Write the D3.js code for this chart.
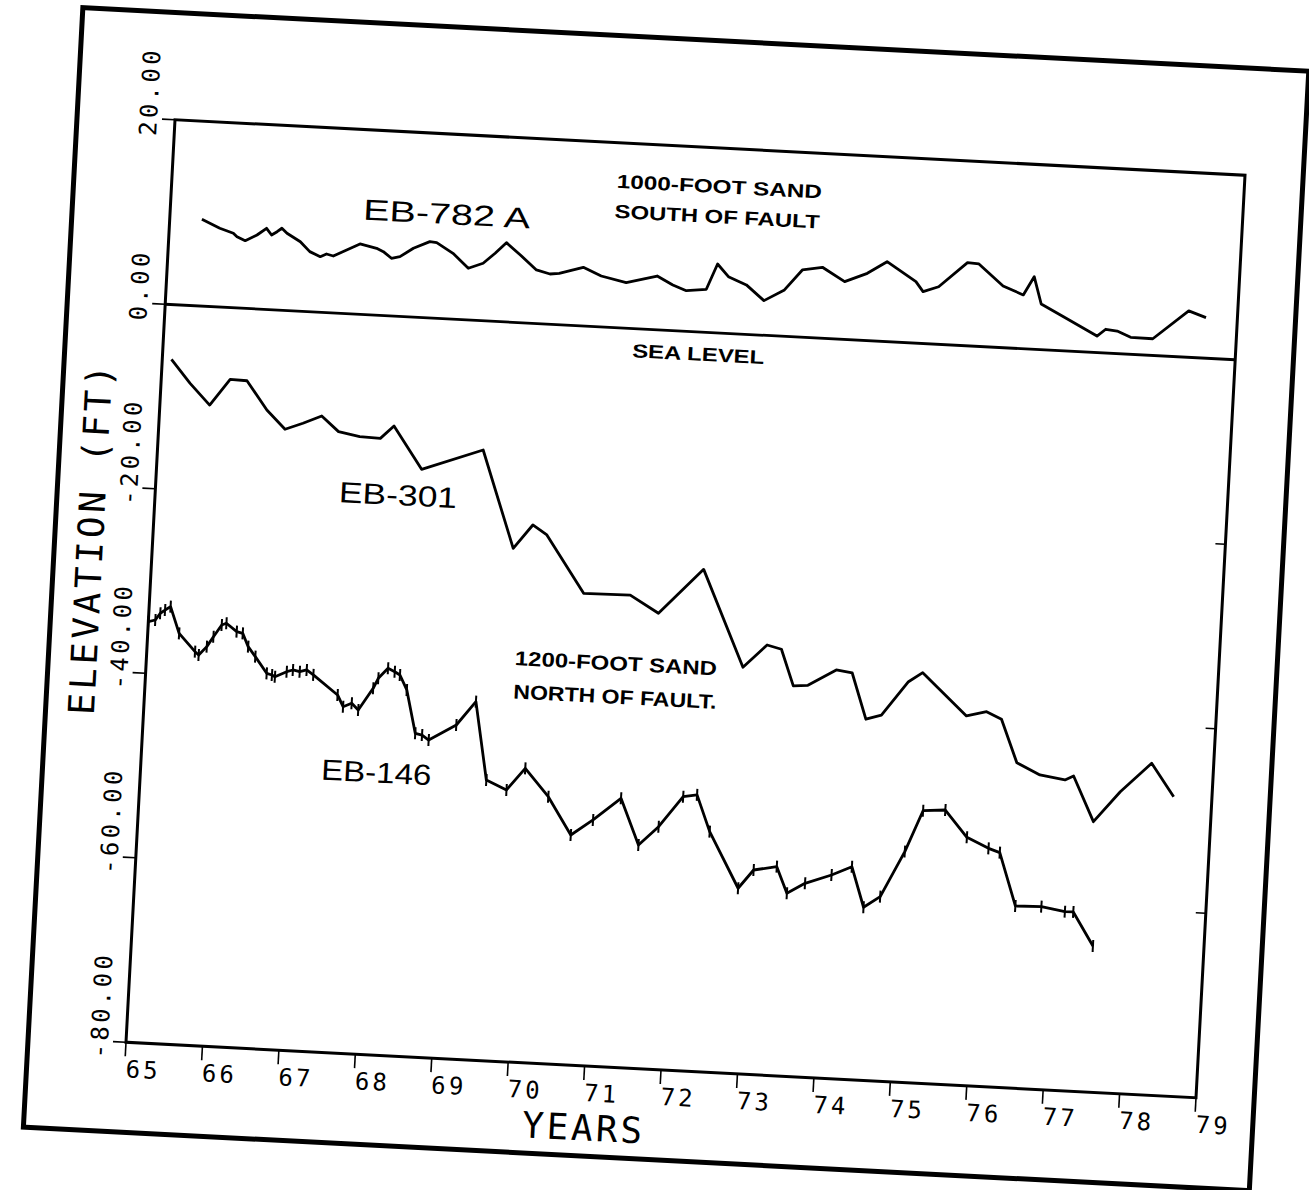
<!DOCTYPE html>
<html><head><meta charset="utf-8">
<script src="https://cdn.jsdelivr.net/npm/d3@7"></script>
<style>html,body{margin:0;padding:0;background:#fff;} svg{display:block}</style>
</head><body>
<svg id="chart" width="1309" height="1190"></svg>
<script>
// ---- data ----
const yearTicks = [65,66,67,68,69,70,71,72,73,74,75,76,77,78,79];
const yTickValues = [20,0,-20,-40,-60,-80];
const yTickLabels = ["20.00","0.00","-20.00","-40.00","-60.00","-80.00"];
const rightTickValues = [-20,-40,-60];

const eb782Years = [65.42,65.66,65.84,65.89,66.0,66.15,66.27,66.34,66.41,66.47,66.54,66.72,66.85,66.99,67.07,67.16,67.33,67.5,67.72,67.81,67.92,68.03,68.2,68.41,68.5,68.72,68.93,69.12,69.27,69.41,69.6,69.82,70.0,70.12,70.43,70.67,71.0,71.4,71.61,71.79,72.05,72.18,72.33,72.57,72.81,73.07,73.29,73.55,73.85,74.14,74.39,74.78,74.88,75.08,75.44,75.59,75.92,76.19,76.32,76.43,76.73,77.18,77.29,77.44,77.62,77.91,78.36,78.59];
const eb782Ft = [9.39,8.52,8.06,7.71,7.32,8.0,8.78,8.08,8.47,8.87,8.36,7.52,6.5,6.01,6.34,6.16,6.88,7.61,7.23,6.91,6.24,6.46,7.44,8.25,8.18,7.12,5.59,6.21,7.36,8.57,7.32,5.79,5.43,5.55,6.34,5.5,4.92,5.81,4.93,4.39,4.65,7.45,6.14,5.35,3.75,5.02,7.28,7.68,6.25,7.28,8.65,6.65,5.61,6.23,9.0,8.92,6.68,5.82,7.85,4.94,3.69,1.79,2.57,2.44,1.84,1.81,5.02,4.39];

const eb301Years = [65.12,65.38,65.65,65.9,66.12,66.4,66.65,66.88,67.12,67.35,67.63,67.9,68.07,68.46,69.25,69.71,69.95,70.14,70.66,71.27,71.65,72.21,72.79,73.09,73.28,73.46,73.65,74.01,74.22,74.43,74.63,74.96,75.14,75.74,76.0,76.2,76.43,76.74,77.07,77.18,77.47,77.8,78.19,78.5];
const eb301Ft = [-5.92,-8.41,-10.65,-7.75,-7.81,-10.87,-12.84,-12.09,-11.2,-12.8,-13.22,-13.29,-11.88,-16.41,-13.97,-24.43,-21.8,-22.8,-28.9,-28.83,-30.64,-25.64,-36.0,-33.46,-33.84,-37.74,-37.59,-35.77,-36.01,-40.93,-40.39,-36.64,-35.58,-40.01,-39.44,-40.17,-44.78,-45.98,-46.38,-45.9,-50.73,-47.34,-44.09,-47.58];

const eb146Years = [65.0,65.09,65.15,65.21,65.28,65.41,65.63,65.68,65.78,65.86,65.96,66.02,66.16,66.24,66.32,66.42,66.58,66.65,66.69,66.84,66.92,67.01,67.1,67.19,67.52,67.6,67.71,67.8,67.98,68.04,68.16,68.25,68.32,68.42,68.56,68.65,68.74,69.09,69.33,69.52,69.79,70.02,70.34,70.66,70.94,71.29,71.55,71.8,72.1,72.28,72.47,72.88,73.07,73.37,73.52,73.75,74.09,74.35,74.53,74.74,75.03,75.24,75.53,75.83,76.12,76.27,76.51,76.85,77.16,77.27,77.55];
const eb146Ft = [-34.41,-34.19,-33.43,-33.06,-32.66,-35.5,-37.39,-37.73,-36.78,-35.67,-34.36,-34.14,-34.99,-35.14,-36.55,-37.59,-39.33,-39.48,-39.65,-39.04,-38.82,-38.97,-38.74,-39.24,-41.27,-42.51,-42.09,-42.78,-40.35,-39.24,-38.1,-38.44,-38.76,-40.34,-44.98,-45.13,-45.63,-43.85,-41.22,-49.63,-50.59,-48.15,-51.09,-55.1,-53.35,-50.85,-55.8,-53.71,-50.33,-50.06,-53.96,-59.92,-57.86,-57.37,-60.19,-59.01,-57.96,-56.95,-61.27,-60.03,-55.02,-50.5,-50.3,-53.13,-54.2,-54.6,-60.28,-60.21,-60.62,-60.6,-64.17];

const annotations = [
  {text:"EB-782 A", yr:68.61, ft:11.34, size:29, w:167, weight:"normal"},
  {text:"EB-301", yr:68.17, ft:-19.32, size:29, w:118, weight:"normal"},
  {text:"EB-146", yr:68.08, ft:-49.43, size:29, w:110, weight:"normal"},
  {text:"1000-FOOT SAND", yr:72.15, ft:15.82, size:19, w:205, weight:"bold"},
  {text:"SOUTH OF FAULT", yr:72.14, ft:12.56, size:19, w:205, weight:"bold"},
  {text:"SEA LEVEL", yr:71.99, ft:-2.41, size:19, w:132, weight:"bold"},
  {text:"1200-FOOT SAND", yr:71.13, ft:-36.28, size:20, w:202, weight:"bold"},
  {text:"NORTH OF FAULT.", yr:71.14, ft:-39.9, size:20, w:203, weight:"bold"}
];

// ---- drawing ----
const W = 1070, H = 923;
const x = d3.scaleLinear().domain([65,79]).range([0,W]);
const y = d3.scaleLinear().domain([-80,20]).range([H,0]);
const svg = d3.select('#chart');
svg.append('rect').attr('width',1309).attr('height',1190).attr('fill','#fff');
const g = svg.append('g').attr('transform','matrix(1,0.05187,-0.05309,0.99946,175,119.75)');

const mono = "'DejaVu Sans Mono', monospace";
const sans = "'Liberation Sans', Arial, sans-serif";

// outer sheet frame
g.append('rect')
  .attr('x', x(63.72)).attr('y', y(31.6))
  .attr('width', x(79.76)-x(63.72)).attr('height', y(-89.75)-y(31.6))
  .attr('fill','none').attr('stroke','#000').attr('stroke-width',5);

// plot frame
g.append('rect').attr('x',0).attr('y',0).attr('width',W).attr('height',H)
  .attr('fill','none').attr('stroke','#000').attr('stroke-width',3);

// sea level line
g.append('line').attr('x1',x(65)).attr('x2',x(79)).attr('y1',y(0)).attr('y2',y(0))
  .attr('stroke','#000').attr('stroke-width',2.8);

// left ticks + labels
yTickValues.forEach((v,i)=>{
  g.append('line').attr('x1',-13).attr('x2',0).attr('y1',y(v)).attr('y2',y(v))
    .attr('stroke','#000').attr('stroke-width',1.6);
  const lab = yTickLabels[i];
  g.append('text')
    .attr('transform',`translate(-18,${y(v)+17.5}) rotate(-90)`)
    .attr('text-anchor','start')
    .attr('font-family',mono).attr('font-size',24)
    .attr('textLength', lab.length*17.7-3).attr('lengthAdjust','spacing')
    .text(lab);
});
// right ticks
rightTickValues.forEach(v=>{
  g.append('line').attr('x1',W-10).attr('x2',W).attr('y1',y(v)).attr('y2',y(v))
    .attr('stroke','#000').attr('stroke-width',1.6);
});
// bottom ticks + labels
yearTicks.forEach(t=>{
  g.append('line').attr('x1',x(t)).attr('x2',x(t)).attr('y1',H).attr('y2',H+14)
    .attr('stroke','#000').attr('stroke-width',1.6);
  g.append('text').attr('x',x(t)+1).attr('y',H+35)
    .attr('font-family',mono).attr('font-size',24)
    .attr('textLength',32).attr('lengthAdjust','spacing')
    .text(String(t));
});

// axis titles
g.append('text')
  .attr('transform',`translate(${x(64.19)},${y(-25.9)}) rotate(-90)`)
  .attr('text-anchor','middle').attr('dominant-baseline','central')
  .attr('font-family',mono).attr('font-size',36)
  .attr('textLength',350).attr('lengthAdjust','spacing')
  .text('ELEVATION (FT)');
g.append('text')
  .attr('transform',`translate(${x(71.01)},${y(-86.7)})`)
  .attr('text-anchor','middle').attr('dominant-baseline','central')
  .attr('font-family',mono).attr('font-size',36)
  .attr('textLength',120).attr('lengthAdjust','spacing')
  .text('YEARS');

// series
const line = d3.line().x(d=>x(d[0])).y(d=>y(d[1]));
const s782 = eb782Years.map((t,i)=>[t,eb782Ft[i]]);
const s301 = eb301Years.map((t,i)=>[t,eb301Ft[i]]);
const s146 = eb146Years.map((t,i)=>[t,eb146Ft[i]]);
[s782,s301,s146].forEach(s=>{
  g.append('path').datum(s).attr('d',line)
    .attr('fill','none').attr('stroke','#000').attr('stroke-width',2.8)
    .attr('stroke-linejoin','round');
});
// EB-146 measurement tick markers
g.selectAll('.mk').data(s146).enter().append('line')
  .attr('x1',d=>x(d[0])).attr('x2',d=>x(d[0]))
  .attr('y1',d=>y(d[1])-6).attr('y2',d=>y(d[1])+6)
  .attr('stroke','#000').attr('stroke-width',2);

// annotations
annotations.forEach(a=>{
  g.append('text')
    .attr('transform',`translate(${x(a.yr)},${y(a.ft)})`)
    .attr('text-anchor','middle').attr('dominant-baseline','central')
    .attr('font-family',sans).attr('font-size',a.size).attr('font-weight',a.weight)
    .attr('textLength',a.w).attr('lengthAdjust','spacingAndGlyphs')
    .text(a.text);
});
</script>
</body></html>
